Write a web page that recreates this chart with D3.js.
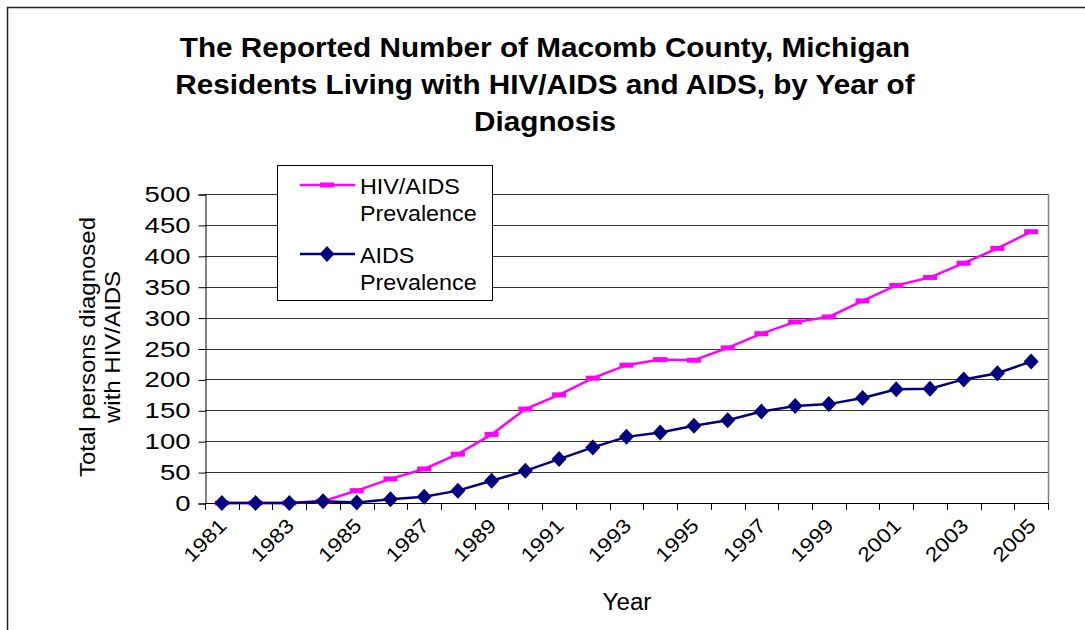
<!DOCTYPE html>
<html>
<head>
<meta charset="utf-8">
<script src="https://cdn.jsdelivr.net/npm/d3@7/dist/d3.min.js"></script>
<style>
  body { margin: 0; background: #fff; }
  text { font-family: Arial, "Liberation Sans", sans-serif; fill: #000; }
</style>
</head>
<body>
<script>
// data
let years = [1981, 1982, 1983, 1984, 1985, 1986, 1987, 1988, 1989, 1990, 1991, 1992, 1993,
             1994, 1995, 1996, 1997, 1998, 1999, 2000, 2001, 2002, 2003, 2004, 2005];
let hivAids = [0, 0, 0, 3, 20, 39, 55, 79, 111, 152, 175, 202, 223,
               232, 231, 251, 274, 293, 301, 327, 352, 365, 388, 412, 439];
let aids = [0, 0, 0, 3, 1, 6, 10, 20, 36, 52, 71, 90, 107,
            114, 125, 134, 148, 157, 160, 170, 184, 185, 200, 210, 229];
let yTicks = [0, 50, 100, 150, 200, 250, 300, 350, 400, 450, 500];
let xLabels = years.filter((d, i) => i % 2 == 0);
let titleLines = ["The Reported Number of Macomb County, Michigan",
                  "Residents Living with HIV/AIDS and AIDS, by Year of",
                  "Diagnosis"];
let yTitle = ["Total persons diagnosed", "with HIV/AIDS"];
let seriesNames = [["HIV/AIDS", "Prevalence"], ["AIDS", "Prevalence"]];

let width = 1085, height = 630;
let plotLeft = 205, plotRight = 1048, plotTop = 194, plotBottom = 503;

// the original text is drawn a bit wider than Arial, so widen it
function stretch(sel, k) {
    sel.each(function() {
        let w = this.getComputedTextLength();
        d3.select(this).attr("textLength", w * k).attr("lengthAdjust", "spacingAndGlyphs");
    });
}

let svg = d3.select("body").append("svg")
    .attr("width", width)
    .attr("height", height);

// outer frame (only left and top show in the picture)
svg.append("path")
    .attr("d", "M7.5,640V7.5H1090")
    .attr("fill", "none")
    .attr("stroke", "#222")
    .attr("stroke-width", 1.5);

let x = d3.scaleBand().domain(years).range([plotLeft, plotRight]);
let y = d3.scaleLinear().domain([0, 500]).range([plotBottom, plotTop]);
let cx = d => x(d) + x.bandwidth() / 2;

// gridlines
svg.append("g").selectAll("line")
    .data(yTicks.filter(d => d > 0))
    .enter().append("line")
    .attr("x1", plotLeft).attr("x2", plotRight)
    .attr("y1", d => Math.round(y(d)) + 0.5)
    .attr("y2", d => Math.round(y(d)) + 0.5)
    .attr("stroke", "#333")
    .attr("stroke-width", 1);

// plot area right border
svg.append("line")
    .attr("x1", plotRight + 0.5).attr("x2", plotRight + 0.5)
    .attr("y1", plotTop).attr("y2", plotBottom)
    .attr("stroke", "#808080")
    .attr("stroke-width", 1.5);

// y axis
let yAxis = svg.append("g")
    .attr("transform", `translate(${plotLeft + 0.5},0.5)`)
    .call(d3.axisLeft(y).tickValues(yTicks).tickSize(7).tickPadding(8));
yAxis.select(".domain").attr("stroke", "#000");
yAxis.selectAll(".tick line").attr("stroke", "#000");
yAxis.selectAll("text")
    .style("font-size", "22px")
    .style("font-family", "Arial, 'Liberation Sans', sans-serif")
    .attr("fill", "#000")
    .call(stretch, 1.25);

// x axis line and ticks at the category borders
let borders = years.map(d => x(d)).concat([plotRight]);
svg.append("line")
    .attr("x1", plotLeft).attr("x2", plotRight)
    .attr("y1", plotBottom + 0.5).attr("y2", plotBottom + 0.5)
    .attr("stroke", "#000");
svg.append("g").selectAll("line")
    .data(borders)
    .enter().append("line")
    .attr("x1", d => Math.round(d) + 0.5).attr("x2", d => Math.round(d) + 0.5)
    .attr("y1", plotBottom).attr("y2", plotBottom + 7)
    .attr("stroke", "#000");

// x labels
svg.append("g").selectAll("text")
    .data(xLabels)
    .enter().append("text")
    .attr("transform", d => `translate(${cx(d) + 6},${plotBottom + 24}) rotate(-45)`)
    .attr("text-anchor", "end")
    .style("font-size", "20px")
    .text(d => d)
    .call(stretch, 1.15);

// lines
let line = d3.line()
    .x((d, i) => cx(years[i]))
    .y(d => y(d));

svg.append("path")
    .datum(hivAids)
    .attr("d", line)
    .attr("fill", "none")
    .attr("stroke", "#ff00ff")
    .attr("stroke-width", 2.5);

svg.append("g").selectAll("rect")
    .data(hivAids)
    .enter().append("rect")
    .attr("x", (d, i) => cx(years[i]) - 7)
    .attr("y", d => y(d) - 2.5)
    .attr("width", 14)
    .attr("height", 5)
    .attr("fill", "#ff00ff");

svg.append("path")
    .datum(aids)
    .attr("d", line)
    .attr("fill", "none")
    .attr("stroke", "#000080")
    .attr("stroke-width", 2.5);

let diamond = "M0,-8L7.5,0L0,8L-7.5,0Z";
svg.append("g").selectAll("path")
    .data(aids)
    .enter().append("path")
    .attr("transform", (d, i) => `translate(${cx(years[i])},${y(d)})`)
    .attr("d", diamond)
    .attr("fill", "#000080");

// title
svg.append("g").selectAll("text")
    .data(titleLines)
    .enter().append("text")
    .attr("x", 545)
    .attr("y", (d, i) => 57 + i * 37)
    .attr("text-anchor", "middle")
    .style("font-size", "27px")
    .style("font-weight", "bold")
    .text(d => d)
    .call(stretch, 1.1);

// y title
svg.append("g").selectAll("text")
    .data(yTitle)
    .enter().append("text")
    .attr("transform", (d, i) => `translate(${95 + i * 25},347) rotate(-90)`)
    .attr("text-anchor", "middle")
    .style("font-size", "22px")
    .text(d => d)
    .call(stretch, 1.09);

// x title
svg.append("text")
    .attr("x", 627)
    .attr("y", 610)
    .attr("text-anchor", "middle")
    .style("font-size", "23px")
    .text("Year")
    .call(stretch, 1.05);

// legend
let legend = svg.append("g");
legend.append("rect")
    .attr("x", 277.5).attr("y", 165.5)
    .attr("width", 215).attr("height", 135)
    .attr("fill", "#fff")
    .attr("stroke", "#000");

let legY = [185, 254];
let legColors = ["#ff00ff", "#000080"];
legY.forEach((ly, k) => {
    legend.append("line")
        .attr("x1", 300).attr("x2", 355)
        .attr("y1", ly).attr("y2", ly)
        .attr("stroke", legColors[k])
        .attr("stroke-width", 2.5);
    if (k == 0) {
        legend.append("rect")
            .attr("x", 320).attr("y", ly - 2.5)
            .attr("width", 14).attr("height", 5)
            .attr("fill", legColors[k]);
    } else {
        legend.append("path")
            .attr("transform", `translate(327,${ly})`)
            .attr("d", diamond)
            .attr("fill", legColors[k]);
    }
    legend.selectAll(".t" + k)
        .data(seriesNames[k])
        .enter().append("text")
        .attr("x", 360)
        .attr("y", (d, i) => ly + 9 + i * 27)
        .style("font-size", "22px")
        .text(d => d)
        .call(stretch, 1.06);
});
</script>
</body>
</html>
